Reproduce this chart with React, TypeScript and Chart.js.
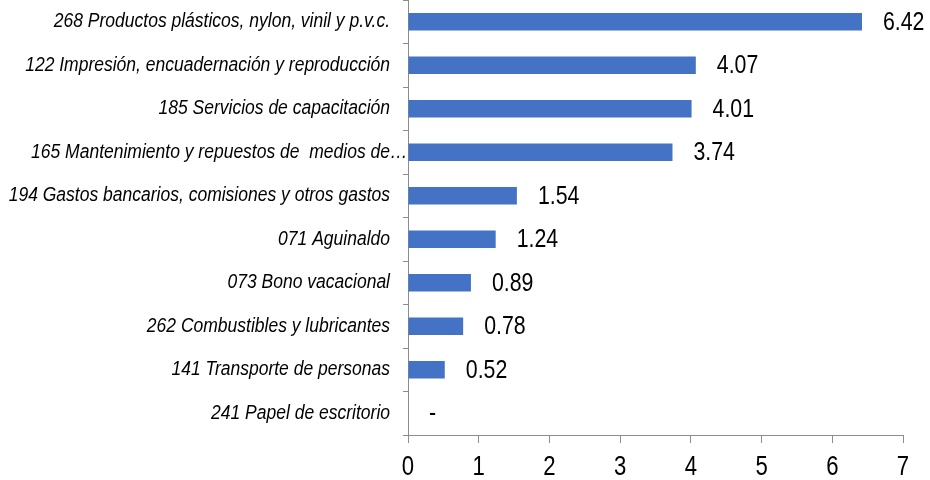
import React, { useEffect, useRef } from "react";
import { Chart, registerables } from "chart.js";

Chart.register(...registerables);

const categories: string[] = [
  "268 Productos plásticos, nylon, vinil y p.v.c.",
  "122 Impresión, encuadernación y reproducción",
  "185 Servicios de capacitación",
  "165 Mantenimiento y repuestos de  medios de…",
  "194 Gastos bancarios, comisiones y otros gastos",
  "071 Aguinaldo",
  "073 Bono vacacional",
  "262 Combustibles y lubricantes",
  "141 Transporte de personas",
  "241 Papel de escritorio",
];

const values: number[] = [6.42, 4.07, 4.01, 3.74, 1.54, 1.24, 0.89, 0.78, 0.52, 0];

const xTicks: number[] = [0, 1, 2, 3, 4, 5, 6, 7];

const FONT = "'Liberation Sans', Arial, sans-serif";

// draw text horizontally condensed (mimics a narrow font)
function narrowText(
  ctx: CanvasRenderingContext2D,
  text: string,
  x: number,
  y: number,
  sx: number,
  align: "left" | "right" | "center"
) {
  ctx.save();
  ctx.translate(x, y);
  ctx.scale(sx, 1);
  ctx.textAlign = align;
  ctx.fillText(text, 0, 0);
  ctx.restore();
}

const textPlugin = {
  id: "textPlugin",
  afterDraw(chart: any) {
    const ctx: CanvasRenderingContext2D = chart.ctx;
    const meta = chart.getDatasetMeta(0);
    const xs = chart.scales.x;
    const ys = chart.scales.y;
    const area = chart.chartArea;
    ctx.save();
    ctx.fillStyle = "#000";
    ctx.textBaseline = "middle";

    // value labels
    ctx.font = `26px ${FONT}`;
    meta.data.forEach((bar: any, i: number) => {
      const v = values[i];
      const txt = v === 0 ? "-" : v.toFixed(2);
      narrowText(ctx, txt, bar.x + 21, bar.y + 1, 0.82, "left");
    });

    // category labels
    ctx.font = `italic 20px ${FONT}`;
    const sx = 0.875;
    categories.forEach((c, i) => {
      const y = ys.getPixelForTick(i);
      const right = area.left - 18;
      if (c.endsWith("…")) {
        const base = c.slice(0, -1);
        narrowText(ctx, base, right, y, sx, "right");
        narrowText(ctx, "…", right, y, sx, "left");
      } else {
        narrowText(ctx, c, right, y, sx, "right");
      }
    });

    // x tick labels
    ctx.font = `27px ${FONT}`;
    xTicks.forEach((t) => {
      const x = xs.getPixelForValue(t);
      narrowText(ctx, String(t), x, area.bottom + 33, 0.82, "center");
    });
    ctx.restore();
  },
};

export default function App() {
  const ref = useRef<HTMLCanvasElement | null>(null);

  useEffect(() => {
    document.body.style.margin = "0";
    const canvas = ref.current!;
    const chart = new Chart(canvas, {
      type: "bar",
      data: {
        labels: categories,
        datasets: [
          {
            data: values,
            backgroundColor: "#4472C4",
            borderWidth: 0,
            categoryPercentage: 1,
            barPercentage: 0.4,
          },
        ],
      },
      options: {
        indexAxis: "y",
        animation: false,
        responsive: false,
        maintainAspectRatio: false,
        layout: { padding: { left: 0, right: 27, top: 0, bottom: 0 } },
        plugins: {
          legend: { display: false },
          tooltip: { enabled: false },
        },
        scales: {
          x: {
            min: 0,
            max: 7,
            afterBuildTicks: (scale: any) => {
              scale.ticks = xTicks.map((v) => ({ value: v }));
            },
            afterFit: (scale: any) => {
              scale.height = 45;
              scale.paddingLeft = 0;
              scale.paddingRight = 0;
            },
            grid: {
              drawOnChartArea: false,
              drawTicks: true,
              tickLength: 8,
              color: "#8c8c8c",
            },
            border: { display: true, color: "#8c8c8c", width: 1 },
            ticks: { display: false },
          },
          y: {
            afterFit: (scale: any) => {
              scale.width = 408;
              scale.paddingTop = 0;
              scale.paddingBottom = 0;
            },
            grid: {
              drawOnChartArea: false,
              drawTicks: true,
              tickLength: 5,
              offset: true,
              color: "#8c8c8c",
            },
            border: { display: true, color: "#8c8c8c", width: 1 },
            ticks: { display: false, autoSkip: false },
          },
        },
      },
      plugins: [textPlugin],
    });
    return () => chart.destroy();
  }, []);

  return (
    <div style={{ width: 930, height: 480, background: "#fff" }}>
      <canvas ref={ref} width={930} height={480} style={{ display: "block" }} />
    </div>
  );
}
